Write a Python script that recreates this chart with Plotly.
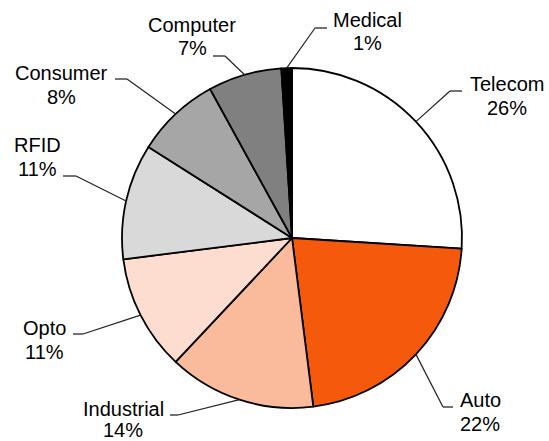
import math
import plotly.graph_objects as go

# ---- data ----
categories = ["Telecom", "Auto", "Industrial", "Opto", "RFID", "Consumer", "Computer", "Medical"]
shares = [26, 22, 14, 11, 11, 8, 7, 1]
pct_labels = ["26%", "22%", "14%", "11%", "11%", "8%", "7%", "1%"]

# ---- style / layout ----
colors = ["#FFFFFF", "#F55A0C", "#F9BB9C", "#FCDDCF", "#D9D9D9", "#A6A6A6", "#808080", "#000000"]
W, H = 549, 441
CX, CY, R = 292, 238, 170
FONT = dict(family="Liberation Sans, Arial, sans-serif", size=20, color="#000000")

# label placement (pixel): text centre x, line1 y, line2 y, elbow x, elbow y, stub end x
label_pos = {
    "Telecom":    (507, 84, 108, 450, 91, 462),
    "Auto":       (480, 400, 424, 443, 407, 453),
    "Industrial": (123, 409, 430, 178, 415, 170),
    "Opto":       (44, 328, 352, 83, 334, 73),
    "RFID":       (37, 145, 169, 76, 176, 63),
    "Consumer":   (61, 73, 97, 127, 79, 115),
    "Computer":   (192, 25, 48, 225, 56, 213),
    "Medical":    (367, 20, 43, 315, 28, 327),
}


def px(x):
    return x / W


def py(y):
    return 1 - y / H


fig = go.Figure(go.Pie(
    labels=categories,
    values=shares,
    sort=False,
    direction="clockwise",
    rotation=0,
    marker=dict(colors=colors, line=dict(color="#000000", width=1.8)),
    textinfo="none",
    hoverinfo="label+percent",
    showlegend=False,
    domain=dict(x=[px(CX - R), px(CX + R)], y=[py(CY + R), py(CY - R)]),
))

shapes = []
annotations = []
total = sum(shares)
cum = 0
for name, v, pl in zip(categories, shares, pct_labels):
    mid = (cum + v / 2) / total * 2 * math.pi
    cum += v
    ex = CX + R * math.sin(mid)
    ey = CY - R * math.cos(mid)
    tx, y1, y2, bx, by, sx = label_pos[name]
    shapes.append(dict(type="line", xref="paper", yref="paper",
                       x0=px(ex), y0=py(ey), x1=px(bx), y1=py(by),
                       line=dict(color="#222222", width=1.2)))
    shapes.append(dict(type="line", xref="paper", yref="paper",
                       x0=px(bx), y0=py(by), x1=px(sx), y1=py(by),
                       line=dict(color="#444444", width=1.5)))
    for txt, yy in ((name, y1), (pl, y2)):
        annotations.append(dict(text=txt, x=px(tx), y=py(yy), xref="paper", yref="paper",
                                xanchor="center", yanchor="middle", showarrow=False,
                                font=FONT))

fig.update_layout(
    width=W, height=H,
    margin=dict(l=0, r=0, t=0, b=0),
    paper_bgcolor="#FFFFFF",
    plot_bgcolor="#FFFFFF",
    shapes=shapes,
    annotations=annotations,
)

fig.write_html("out.html")
